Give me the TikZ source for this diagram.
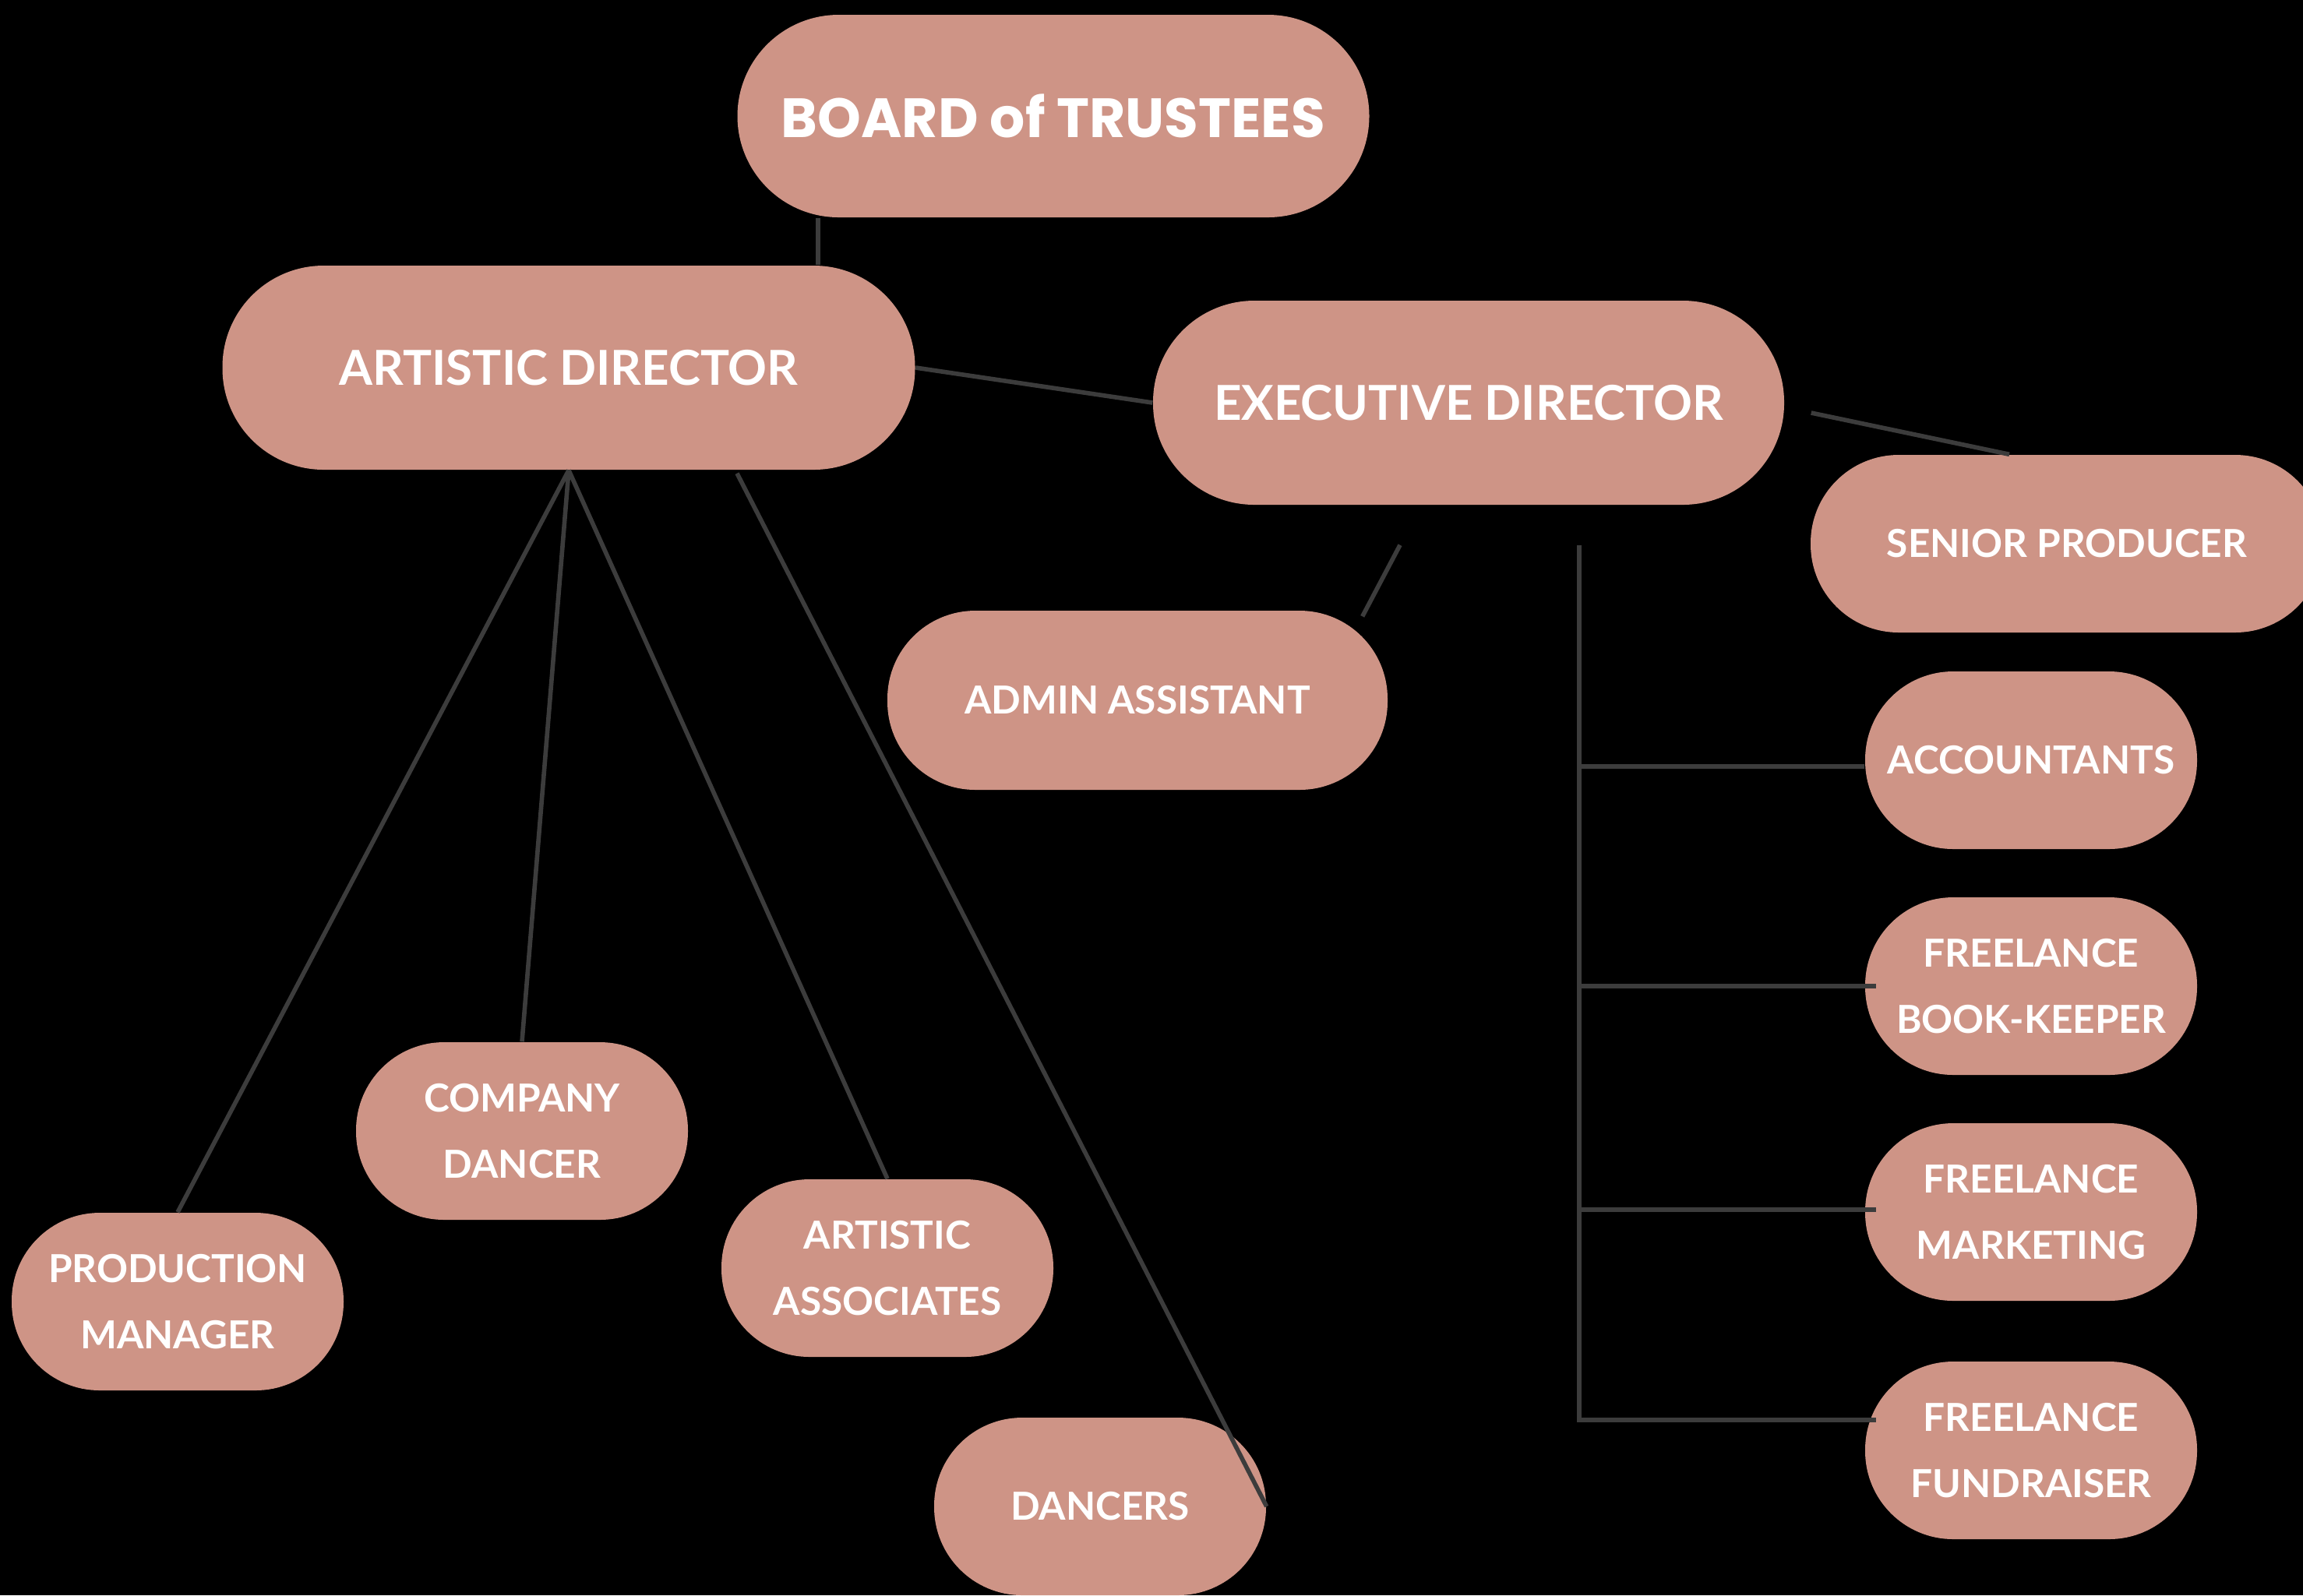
\documentclass[tikz,border=0pt]{standalone}
\usepackage{fontspec}
\setmainfont{Lato}
\newfontfamily\boardfamily{Poppins}
\usepackage{tikz}
\usetikzlibrary{calc,positioning}
\definecolor{boxfill}{HTML}{CE9486}
\definecolor{linkgray}{HTML}{3C3C3C}
\newcommand{\bigfont}{\fontsize{17.6}{21}\selectfont\bfseries}
\newcommand{\smallfont}{\fontsize{14.1}{24.2}\selectfont\bfseries}
\newcommand{\boardfont}{\boardfamily\fontsize{20.2}{23}\selectfont\bfseries}

\begin{document}
\begin{tikzpicture}[
    pill/.style={rectangle, fill=boxfill, text=white, inner sep=0pt, align=center},
    bigpill/.style={pill, minimum height=2.62cm, rounded corners=1.3cm, font=\bigfont},
    smallpill/.style={pill, minimum width=4.26cm, minimum height=2.28cm, rounded corners=1.13cm, font=\smallfont},
    link/.style={draw=linkgray, line width=1.6pt}]
    \fill[black] (0, 0) rectangle (29.56, -20.48);
    \useasboundingbox (0, 0) rectangle (29.56, -20.48);

    \node[bigpill, minimum width=8.11cm, minimum height=2.60cm, font=\boardfont] (board) at (13.52, -1.49) {BOARD of TRUSTEES};
    \node[bigpill, minimum width=8.89cm] (artdir) at (7.30, -4.72) {ARTISTIC DIRECTOR};
    \node[bigpill, minimum width=8.10cm] (execdir) at (18.85, -5.17) {EXECUTIVE DIRECTOR};

    \node[smallpill, minimum width=6.58cm] (senprod) at (26.53, -6.98) {SENIOR PRODUCER};
    \node[smallpill, minimum width=6.42cm, minimum height=2.30cm] (admin) at (14.60, -8.99) {ADMIN ASSISTANT};
    \node[smallpill] (accts) at (26.07, -9.76) {ACCOUNTANTS};
    \node[smallpill] (bookkeep) at (26.07, -12.66) {FREELANCE\\BOOK-KEEPER};
    \node[smallpill] (marketing) at (26.07, -15.56) {FREELANCE\\MARKETING};
    \node[smallpill] (fundraise) at (26.07, -18.62) {FREELANCE\\FUNDRAISER};

    \node[smallpill] (prodman) at (2.28, -16.71) {PRODUCTION\\MANAGER};
    \node[smallpill] (compdancer) at (6.70, -14.52) {COMPANY\\DANCER};
    \node[smallpill] (artassoc) at (11.39, -16.28) {ARTISTIC\\ASSOCIATES};
    \node[smallpill] (dancers) at (14.12, -19.34) {DANCERS};

    \coordinate (boardfoot) at ([xshift=1.04cm]board.south west);
    \draw[link] (boardfoot) -- (boardfoot |- artdir.north);
    \draw[link] (artdir.east) -- (execdir.west);

    \draw[link] (artdir.south) -- (prodman.north);
    \draw[link] (artdir.south) -- (compdancer.north);
    \draw[link] (artdir.south) -- (artassoc.north);
    \draw[link] ([shift={(2.16,-0.04)}]artdir.south) -- (dancers.east);

    \draw[link] ([shift={(0.34,-0.13)}]execdir.east) -- ([xshift=-0.74cm]senprod.north);
    \draw[link] ([shift={(-0.88,-0.51)}]execdir.south) -- ([shift={(-0.33,-0.08)}]admin.north east);

    \coordinate (bus) at ([shift={(1.42,-0.51)}]execdir.south);
    \coordinate (acctsin) at ([yshift=-0.08cm]accts.west);
    \coordinate (bookin) at ([xshift=0.15cm]bookkeep.west);
    \coordinate (marketin) at ([xshift=0.15cm, yshift=0.03cm]marketing.west);
    \coordinate (fundin) at ([xshift=0.15cm, yshift=0.39cm]fundraise.west);
    \draw[link] (bus) -- (bus |- fundin) -- (fundin);
    \draw[link] (bus |- acctsin) -- (acctsin);
    \draw[link] (bus |- bookin) -- (bookin);
    \draw[link] (bus |- marketin) -- (marketin);
\end{tikzpicture}
\end{document}
